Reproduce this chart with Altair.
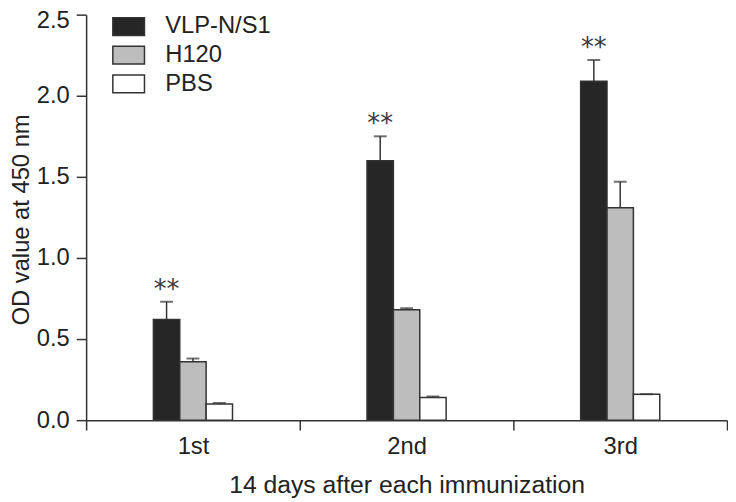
import altair as alt
import pandas as pd

rounds = ["1st", "2nd", "3rd"]
groups = ["VLP-N/S1", "H120", "PBS"]
vlp = [0.62, 1.60, 2.09]
vlp_err = [0.11, 0.15, 0.13]
h120 = [0.36, 0.68, 1.31]
h120_err = [0.02, 0.01, 0.16]
pbs = [0.10, 0.14, 0.16]
pbs_err = [0.006, 0.006, 0.0]
stars = ["**", "**", "**"]

rows = []
for g, vals, errs in zip(groups, [vlp, h120, pbs], [vlp_err, h120_err, pbs_err]):
    for i, r in enumerate(rounds):
        rows.append({
            "round": r, "group": g, "value": vals[i], "err": errs[i],
            "top": vals[i] + errs[i],
            "star": stars[i] if g == groups[0] else "",
        })
df = pd.DataFrame(rows)

FONT = "Liberation Sans"
INK = "#333333"
TXT = "#222222"

x = alt.X("round:N", sort=rounds,
          scale=alt.Scale(paddingInner=0, paddingOuter=0),
          axis=alt.Axis(title="14 days after each immunization", labelAngle=0,
                        tickBand="extent", tickSize=10, labelPadding=5,
                        titlePadding=14))
xo = alt.XOffset("group:N", sort=groups,
                 scale=alt.Scale(range=[68, 148], paddingInner=0, paddingOuter=0))
y = alt.Y("value:Q", scale=alt.Scale(domain=[0, 2.5], nice=False),
          axis=alt.Axis(values=[0, 0.5, 1.0, 1.5, 2.0, 2.5], format=".1f",
                        title="OD value at 450 nm", tickSize=10, labelPadding=7,
                        labelOffset={"condition": {"test": "datum.value == 2.5", "value": 6}, "value": 0},
                        titleX=-58, titleY=207, titleAngle=270, titleFontSize=24,
                        titleBaseline="alphabetic", titleAlign="center"))

base = alt.Chart(df)

bars = base.mark_bar(stroke=INK, strokeWidth=1.5).encode(
    x=x, xOffset=xo, y=y,
    color=alt.Color("group:N", sort=groups,
                    scale=alt.Scale(domain=groups, range=["#262626", "#bdbdbd", "#ffffff"]),
                    legend=alt.Legend(title=None, orient="none", legendX=26, legendY=-5,
                                      symbolType="M-1,-0.5625H1V0.5625H-1Z",
                                      symbolSize=1024, symbolStrokeColor=INK,
                                      symbolStrokeWidth=1.5, symbolOpacity=1,
                                      labelFontSize=24, labelFont=FONT,
                                      labelColor=TXT, labelOffset=20,
                                      rowPadding=-7, padding=0)),
)

rules = base.mark_rule(color=INK, strokeWidth=1.5).encode(
    x="round:N", xOffset=alt.XOffset("group:N", sort=groups),
    y="value:Q", y2="top:Q",
)

caps = base.mark_tick(color=INK, thickness=2, size=13, orient="horizontal").encode(
    x="round:N", xOffset=alt.XOffset("group:N", sort=groups),
    y="top:Q",
)

text = base.transform_filter(alt.datum.star != "").mark_text(
    font="DejaVu Sans", fontSize=26, color="#3a3a3a", baseline="alphabetic", dy=-4,
).encode(
    x="round:N", xOffset=alt.XOffset("group:N", sort=groups),
    y="top:Q", text="star:N",
)

chart = alt.layer(bars, rules, caps, text).properties(
    width=648, height=410,
    autosize=alt.AutoSizeParams(type="none"),
    padding={"left": 79, "top": 4, "right": 1, "bottom": 78},
    background="white",
).configure_view(stroke=None).configure_axis(
    domainColor=INK, domainWidth=1.5, tickColor=INK, tickWidth=1.5,
    labelFont=FONT, labelFontSize=24, labelColor=TXT,
    titleFont=FONT, titleFontSize=25, titleFontWeight="normal", titleColor=TXT,
    grid=False,
)

chart.save("out.html", embed_options={"renderer": "svg", "actions": False})
